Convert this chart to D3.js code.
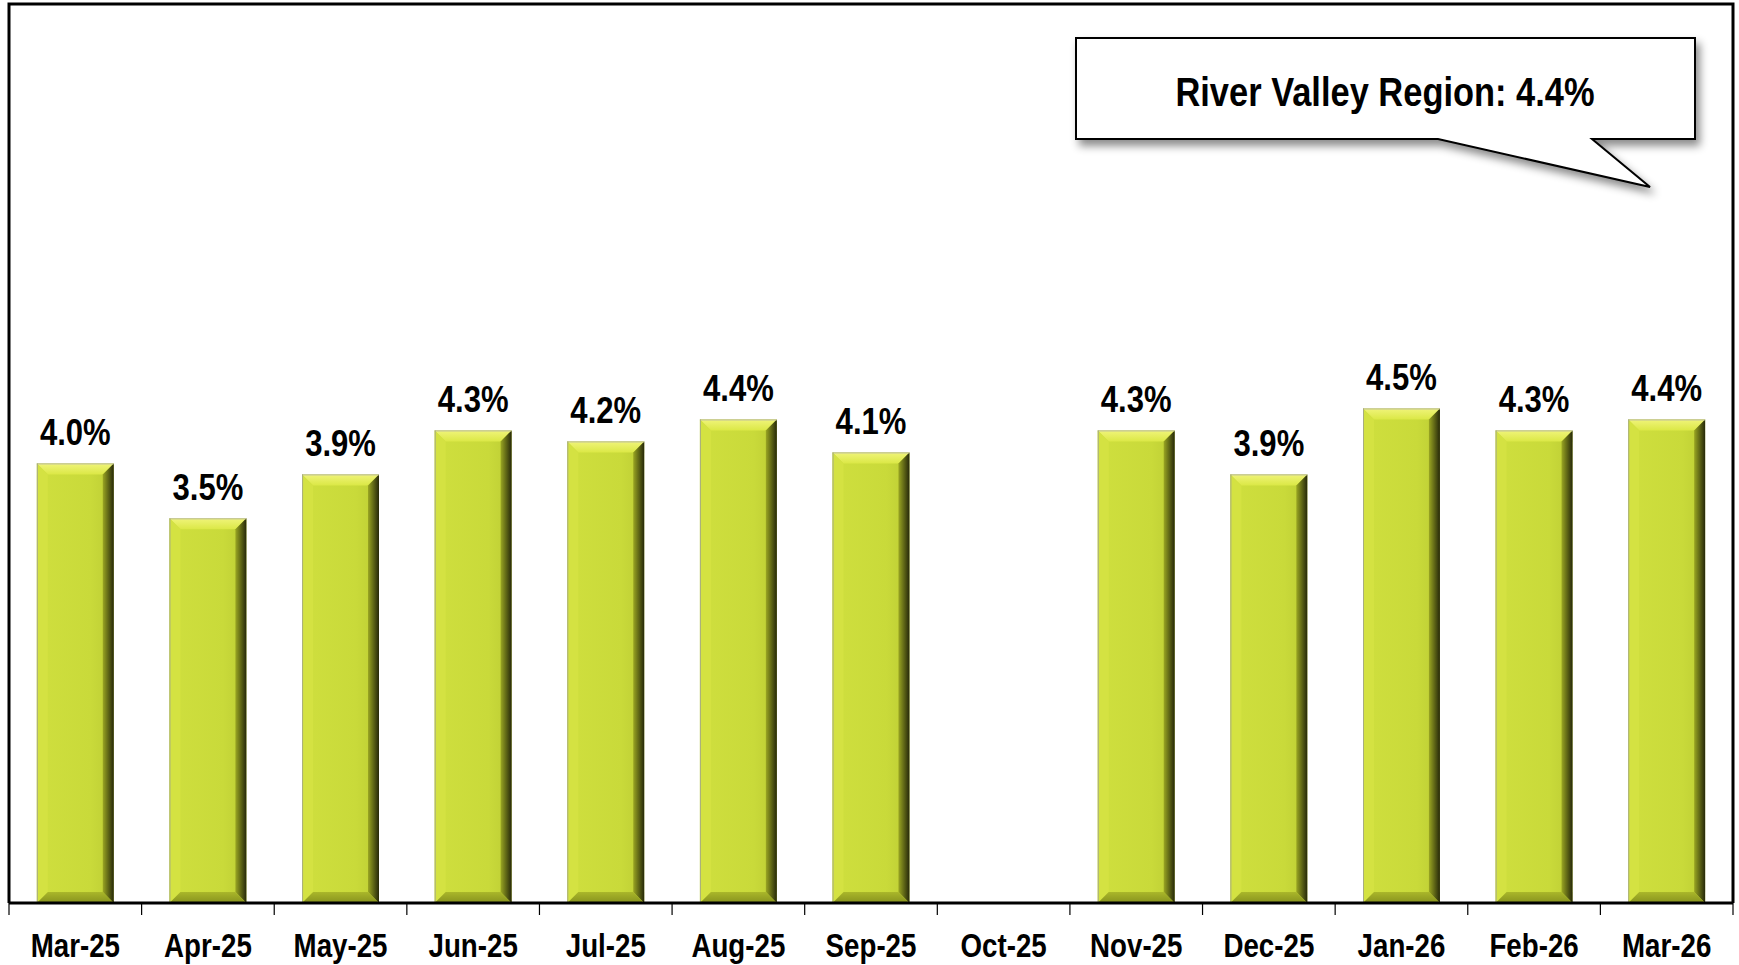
<!DOCTYPE html>
<html>
<head>
<meta charset="utf-8">
<script src="https://cdn.jsdelivr.net/npm/d3@7"></script>
<style>
  html, body { margin: 0; padding: 0; background: #fff; }
  svg { display: block; }
  .narrow { font-family: "Liberation Sans Narrow", "Arial Narrow", "Liberation Sans", Arial, sans-serif; font-weight: bold; }
</style>
</head>
<body>
<svg id="chart" width="1739" height="965"></svg>
<script>
const categories = ["Mar-25","Apr-25","May-25","Jun-25","Jul-25","Aug-25","Sep-25","Oct-25","Nov-25","Dec-25","Jan-26","Feb-26","Mar-26"];
const values = [4.0, 3.5, 3.9, 4.3, 4.2, 4.4, 4.1, null, 4.3, 3.9, 4.5, 4.3, 4.4];
const calloutText = "River Valley Region: 4.4%";

(function(){
const svg = d3.select("#chart");
const pL = 9, pR = 1733, pT = 4, pB = 903;
const squeeze = 0.84;

const x = d3.scaleBand().domain(categories).range([pL, pR]).paddingInner(0.42).paddingOuter(0.21);
const y = d3.scaleLinear().domain([0, 8.18]).range([pB, pT]);

const defs = svg.append("defs");
const gTop = defs.append("linearGradient").attr("id","gTop").attr("x1",0).attr("y1",0).attr("x2",0).attr("y2",1);
gTop.append("stop").attr("offset","0%").attr("stop-color","#f0f47a");
gTop.append("stop").attr("offset","100%").attr("stop-color","#dbe846");
const gFace = defs.append("linearGradient").attr("id","gFace").attr("x1",0).attr("y1",0).attr("x2",1).attr("y2",0);
gFace.append("stop").attr("offset","0%").attr("stop-color","#cfdf3e");
gFace.append("stop").attr("offset","70%").attr("stop-color","#c9da3a");
gFace.append("stop").attr("offset","100%").attr("stop-color","#bccc34");
const gRight = defs.append("linearGradient").attr("id","gRight").attr("x1",0).attr("y1",0).attr("x2",1).attr("y2",0);
gRight.append("stop").attr("offset","0%").attr("stop-color","#9aa622");
gRight.append("stop").attr("offset","100%").attr("stop-color","#26280a");
const gBot = defs.append("linearGradient").attr("id","gBot").attr("x1",0).attr("y1",0).attr("x2",0).attr("y2",1);
gBot.append("stop").attr("offset","0%").attr("stop-color","#aab72a");
gBot.append("stop").attr("offset","100%").attr("stop-color","#87921e");

const sh = defs.append("filter").attr("id","shadow").attr("x","-10%").attr("y","-10%").attr("width","130%").attr("height","150%");
sh.append("feDropShadow").attr("dx",4).attr("dy",6).attr("stdDeviation",4).attr("flood-color","#000").attr("flood-opacity",0.45);

// plot frame (left, top, right)
svg.append("path")
  .attr("d", `M${pL},${pB} V${pT} H${pR} V${pB}`)
  .attr("fill","none").attr("stroke","#000").attr("stroke-width",3);

// bars
const data = categories.map((c,i) => ({c, v: values[i]})).filter(d => d.v != null);
const b = 11;
const bars = svg.append("g").selectAll("g").data(data).join("g");
bars.each(function(d){
  const g = d3.select(this);
  const x0 = x(d.c), x1 = x0 + x.bandwidth(), y0 = y(d.v), y1 = y(0);
  g.append("rect").attr("x",x0).attr("y",y0).attr("width",x1-x0).attr("height",y1-y0).attr("fill","url(#gFace)");
  g.append("polygon").attr("points",[[x0,y0],[x1,y0],[x1-b,y0+b],[x0+b,y0+b]].join(" ")).attr("fill","url(#gTop)");
  g.append("polygon").attr("points",[[x0,y0],[x0+b,y0+b],[x0+b,y1-b],[x0,y1]].join(" ")).attr("fill","#d4e242");
  g.append("polygon").attr("points",[[x1,y0],[x1,y1],[x1-b,y1-b],[x1-b,y0+b]].join(" ")).attr("fill","url(#gRight)");
  g.append("polygon").attr("points",[[x0,y1],[x0+b,y1-b],[x1-b,y1-b],[x1,y1]].join(" ")).attr("fill","url(#gBot)");
  g.append("line").attr("x1",x0).attr("x2",x1).attr("y1",y0+0.5).attr("y2",y0+0.5).attr("stroke","#b8b8a0").attr("stroke-width",1);
  g.append("line").attr("x1",x0+0.5).attr("x2",x0+0.5).attr("y1",y0).attr("y2",y1).attr("stroke","#a8ad80").attr("stroke-width",1);
});

// value labels
svg.append("g").selectAll("text").data(data).join("text")
  .attr("class","narrow")
  .attr("transform", d => `translate(${x(d.c) + x.bandwidth()/2},${y(d.v) - 18}) scale(${squeeze},1)`)
  .attr("text-anchor","middle")
  .attr("font-size", 37)
  .attr("fill","#000")
  .text(d => d.v.toFixed(1) + "%");

// x axis
const axis = svg.append("g").attr("transform", `translate(0,${pB})`);
axis.append("line").attr("x1",pL).attr("x2",pR).attr("y1",0).attr("y2",0).attr("stroke","#000").attr("stroke-width",3);
const tickPos = categories.map(c => x(c) - x.step()*x.paddingInner()/2).concat([pR]);
tickPos[0] = pL;
axis.selectAll("line.tick").data(tickPos).join("line").attr("class","tick")
  .attr("x1", d => d).attr("x2", d => d).attr("y1", 0).attr("y2", 12)
  .attr("stroke","#000").attr("stroke-width",1.2);
axis.selectAll("text").data(categories).join("text")
  .attr("class","narrow")
  .attr("transform", d => `translate(${x(d) + x.bandwidth()/2},54) scale(${squeeze},1)`)
  .attr("text-anchor","middle")
  .attr("font-size", 33)
  .attr("fill","#000")
  .text(d => d);

// callout
const cg = svg.append("g");
cg.append("path")
  .attr("d","M1076,38 H1695 V139 H1592 L1650,187 L1438,139 H1076 Z")
  .attr("fill","#fff").attr("stroke","#000").attr("stroke-width",2)
  .attr("filter","url(#shadow)");
cg.append("text").attr("class","narrow")
  .attr("transform", `translate(1385,106) scale(${squeeze},1)`)
  .attr("text-anchor","middle")
  .attr("font-size",41).attr("fill","#000")
  .text(calloutText);
})();
</script>
</body>
</html>
